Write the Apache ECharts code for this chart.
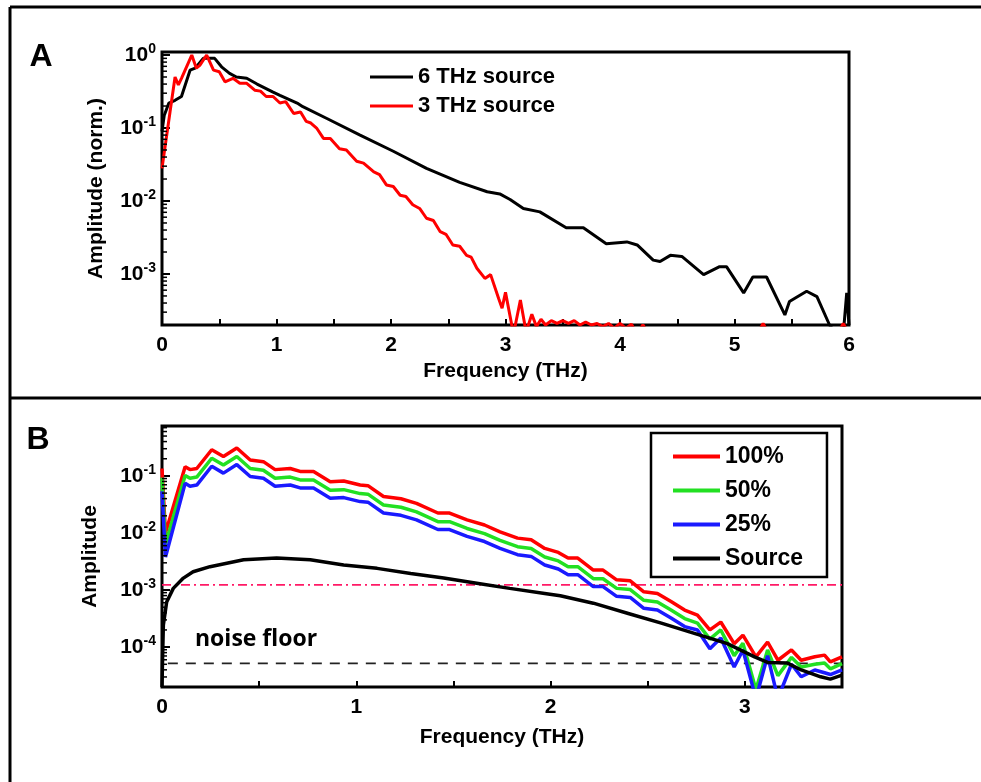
<!DOCTYPE html>
<html><head><meta charset="utf-8">
<script src="https://cdn.jsdelivr.net/npm/echarts/dist/echarts.min.js"></script>
<style>html,body{margin:0;padding:0;background:#fff}#c{width:981px;height:782px}</style>
</head><body><div id="c"></div>
<script>
// ---------- Panel A data ----------
const freqA6 = [0.000,0.020,0.060,0.114,0.170,0.245,0.290,0.360,0.460,0.520,0.590,0.650,0.740,0.830,0.970,1.030,1.180,1.230,1.440,1.730,2.020,2.310,2.600,2.840,2.950,3.040,3.156,3.300,3.530,3.680,3.880,4.060,4.150,4.290,4.350,4.440,4.540,4.730,4.870,4.930,5.080,5.160,5.280,5.440,5.480,5.630,5.720,5.830,5.890,5.950,5.980,6.000];
const ampA6  = [0.09,0.15,0.22,0.24,0.27,0.62,0.66,0.90,0.90,0.69,0.56,0.50,0.48,0.40,0.31,0.28,0.22,0.196,0.135,0.080,0.048,0.028,0.018,0.0134,0.0125,0.0105,0.0079,0.0071,0.0043,0.0043,0.0026,0.00275,0.0025,0.00155,0.00148,0.0018,0.00174,0.00098,0.00126,0.00126,0.00055,0.00091,0.00091,0.000275,0.00042,0.00058,0.00049,0.00020,0.00015,0.00015,0.00055,0.00020];

const freqA3 = [0.000,0.070,0.114,0.143,0.170,0.260,0.300,0.330,0.390,0.450,0.500,0.550,0.620,0.680,0.740,0.810,0.860,0.910,0.970,1.030,1.080,1.150,1.210,1.260,1.300,1.350,1.410,1.470,1.550,1.610,1.700,1.760,1.850,1.900,1.960,2.020,2.080,2.130,2.190,2.250,2.310,2.370,2.430,2.480,2.540,2.600,2.660,2.700,2.750,2.820,2.870,2.940,2.970,3.000,3.070,3.130,3.180,3.230,3.270,3.310,3.350,3.400,3.450,3.500,3.550,3.600,3.650,3.700,3.750,3.800,3.850,3.900,3.950,4.000,4.050,4.100,4.150,4.200,4.250,4.600,5.200,5.250,5.300,5.900,5.950,6.000];
const ampA3  = [0.028,0.166,0.50,0.39,0.48,1.0,0.66,0.72,1.0,0.62,0.59,0.43,0.48,0.41,0.41,0.33,0.32,0.27,0.27,0.22,0.23,0.158,0.166,0.123,0.117,0.100,0.072,0.072,0.052,0.050,0.035,0.033,0.025,0.023,0.0166,0.0158,0.012,0.0115,0.0089,0.0079,0.0058,0.0054,0.0038,0.0035,0.0025,0.0024,0.0018,0.0017,0.0012,0.00087,0.00098,0.00046,0.00034,0.00056,0.00015,0.00044,0.00016,0.00028,0.00019,0.00024,0.00020,0.00023,0.00021,0.00023,0.00021,0.00023,0.00020,0.00022,0.00020,0.00021,0.00019,0.00021,0.00018,0.00021,0.00018,0.000205,0.00015,0.000202,0.00015,0.00015,0.00015,0.00021,0.00015,0.00015,0.00021,0.00015];

// ---------- Panel B data ----------
const freqB = [0.000,0.018,0.119,0.144,0.179,0.256,0.316,0.385,0.454,0.522,0.582,0.660,0.711,0.780,0.866,0.935,1.020,1.060,1.140,1.230,1.310,1.420,1.480,1.570,1.660,1.740,1.830,1.900,1.970,2.040,2.090,2.140,2.220,2.270,2.340,2.410,2.480,2.550,2.620,2.690,2.756,2.820,2.876,2.945,2.990,3.057,3.117,3.170,3.240,3.290,3.360,3.410,3.440,3.500];
const ampB100 = [0.135,0.010,0.145,0.129,0.135,0.288,0.219,0.309,0.190,0.178,0.129,0.135,0.120,0.120,0.0794,0.0813,0.0692,0.0676,0.0437,0.0398,0.0331,0.0224,0.0224,0.0170,0.0138,0.0105,0.00813,0.00759,0.00537,0.00457,0.00363,0.00363,0.00224,0.00224,0.00151,0.00145,0.000933,0.000871,0.000631,0.000447,0.000363,0.000200,0.000275,0.000115,0.000162,0.0000676,0.000123,0.0000589,0.0000891,0.0000589,0.0000676,0.0000724,0.0000550,0.0000676];
const ampB50  = [0.0933,0.00631,0.102,0.0912,0.0955,0.204,0.155,0.219,0.135,0.126,0.0912,0.0955,0.0851,0.0851,0.0562,0.0575,0.0490,0.0479,0.0309,0.0282,0.0234,0.0158,0.0158,0.0120,0.00977,0.00741,0.00575,0.00537,0.00380,0.00324,0.00257,0.00257,0.00158,0.00158,0.00107,0.00102,0.000661,0.000617,0.000447,0.000316,0.000263,0.000138,0.000200,0.0000708,0.000117,0.000018,0.0000891,0.0000316,0.0000661,0.0000447,0.0000501,0.0000525,0.0000417,0.0000513];
const ampB25  = [0.0537,0.00380,0.0741,0.0661,0.0692,0.148,0.112,0.158,0.0977,0.0912,0.0661,0.0692,0.0617,0.0617,0.0407,0.0417,0.0355,0.0347,0.0224,0.0204,0.0170,0.0115,0.0115,0.00871,0.00708,0.00537,0.00417,0.00389,0.00275,0.00234,0.00186,0.00186,0.00115,0.00115,0.000776,0.000741,0.000479,0.000447,0.000324,0.000229,0.000200,0.0000933,0.000145,0.0000447,0.0000891,0.0000126,0.0000708,0.0000126,0.0000501,0.0000302,0.0000398,0.0000355,0.0000331,0.0000398];
const freqBsrc = [0.000,0.003,0.007,0.024,0.058,0.110,0.160,0.247,0.420,0.590,0.763,0.935,1.107,1.280,1.450,1.620,1.790,1.970,2.050,2.220,2.400,2.570,2.740,2.910,3.050,3.120,3.220,3.290,3.390,3.440,3.500];
const ampBsrc  = [0.000020,0.000065,0.000245,0.000617,0.00107,0.00162,0.00209,0.00257,0.00339,0.00363,0.00339,0.00275,0.00240,0.00195,0.00162,0.00132,0.00107,0.000871,0.000794,0.000589,0.000389,0.000263,0.000174,0.000115,0.0000676,0.0000537,0.0000525,0.0000398,0.0000302,0.0000275,0.0000324];
const refLineX    = [0.0, 3.5];
const refLevelB   = [0.00123, 0.00123];     // dash-dot reference line
const noiseLineX  = [0.03, 3.5];
const noiseFloorB = [0.000052, 0.000052];   // noise floor

// minor (log) tick values
const minorTicksA = [3e-4,4e-4,5e-4,6e-4,7e-4,8e-4,9e-4,2e-3,3e-3,4e-3,5e-3,6e-3,7e-3,8e-3,9e-3,2e-2,3e-2,4e-2,5e-2,6e-2,7e-2,8e-2,9e-2,0.2,0.3,0.4,0.5,0.6,0.7,0.8,0.9];
const minorTicksB = [3e-5,4e-5,5e-5,6e-5,7e-5,8e-5,9e-5,2e-4,3e-4,4e-4,5e-4,6e-4,7e-4,8e-4,9e-4,2e-3,3e-3,4e-3,5e-3,6e-3,7e-3,8e-3,9e-3,2e-2,3e-2,4e-2,5e-2,6e-2,7e-2,8e-2,9e-2,0.2,0.3,0.4,0.5,0.6,0.7];

const FONT = '"Liberation Sans", Arial, Helvetica, sans-serif';
const pairs = (xs, ys) => xs.map((x, i) => [x, ys[i]]);

function powLabel(v) {
  const e = Math.log10(v), r = Math.round(e);
  if (Math.abs(e - r) > 1e-6) return '';
  return '{b|10}{s|' + r + '}';
}
function intLabel(v) {
  return Math.abs(v - Math.round(v)) < 1e-9 ? String(Math.round(v)) : '';
}
const RICH = {
  b: {fontSize: 21, fontWeight: 'bold', fontFamily: FONT, color: '#000', lineHeight: 25},
  s: {fontSize: 14, fontWeight: 'bold', fontFamily: FONT, color: '#000', verticalAlign: 'top', lineHeight: 14}
};
const nameStyle = {fontSize: 21, fontWeight: 'bold', fontFamily: FONT, color: '#000'};
const tickStyle = {inside: true, length: 6, lineStyle: {width: 2, color: '#000'}};

function xAxis(idx, max, gap) {
  return {
    type: 'value', gridIndex: idx, min: 0, max: max, interval: 0.5,
    name: 'Frequency (THz)', nameLocation: 'middle', nameGap: gap, nameTextStyle: nameStyle,
    axisLine: {show: false}, axisTick: tickStyle, splitLine: {show: false},
    axisLabel: {interval: 0, margin: 10, fontSize: 21, fontWeight: 'bold', fontFamily: FONT, color: '#000', formatter: intLabel}
  };
}
function yAxis(idx, min, max, name, gap) {
  return {
    type: 'log', logBase: 10, gridIndex: idx, min: min, max: max,
    name: name, nameLocation: 'middle', nameGap: gap, nameRotate: 90, nameTextStyle: nameStyle,
    axisLine: {show: false}, splitLine: {show: false},
    axisTick: {inside: true, length: 8, lineStyle: {width: 2, color: '#000'}},
    axisLabel: {interval: 0, margin: 6, formatter: powLabel, rich: RICH}
  };
}
function minorTickSeries(idx, vals) {
  return {
    type: 'custom', xAxisIndex: idx, yAxisIndex: idx, silent: true, z: 5,
    data: vals.map(v => [0, v]),
    renderItem: function (p, api) {
      const pt = api.coord([api.value(0), api.value(1)]);
      return {type: 'line', shape: {x1: pt[0], y1: pt[1], x2: pt[0] + 5, y2: pt[1]},
              style: {stroke: '#000', lineWidth: 1.5}};
    }
  };
}
function lineSeries(name, idx, data, color, width, extra) {
  return Object.assign({
    name: name, type: 'line', xAxisIndex: idx, yAxisIndex: idx, data: data,
    showSymbol: false, symbol: 'none', clip: true, animation: false,
    itemStyle: {color: color}, lineStyle: {color: color, width: width}
  }, extra || {});
}

const chart = echarts.init(document.getElementById('c'), null, {renderer: 'canvas'});
chart.setOption({
  animation: false,
  backgroundColor: '#fff',
  grid: [
    {left: 162, top: 52, width: 687, height: 273, show: true, borderColor: '#000', borderWidth: 3, backgroundColor: 'transparent'},
    {left: 162, top: 426, width: 680, height: 261, show: true, borderColor: '#000', borderWidth: 3, backgroundColor: 'transparent'}
  ],
  xAxis: [xAxis(0, 6, 36), xAxis(1, 3.5, 40)],
  yAxis: [yAxis(0, 2e-4, 1.1, 'Amplitude (norm.)', 55), yAxis(1, 2e-5, 0.75, 'Amplitude', 61)],
  legend: [
    {data: ['6 THz source', '3 THz source'], left: 370, top: 66, orient: 'vertical', icon: 'rect',
     itemWidth: 43, itemHeight: 3, itemGap: 7, padding: 0,
     textStyle: {fontSize: 22, fontWeight: 'bold', fontFamily: FONT, color: '#000'}},
    {data: ['100%', '50%', '25%', 'Source'], left: 651, top: 433, orient: 'vertical', icon: 'rect',
     itemWidth: 47, itemHeight: 4, itemGap: 11, padding: [12, 24, 7, 22],
     borderColor: '#000', borderWidth: 2.5,
     textStyle: {fontSize: 23, fontWeight: 'bold', fontFamily: FONT, color: '#000'}}
  ],
  graphic: [
    {type: 'line', shape: {x1: 10, y1: 7, x2: 981, y2: 7}, style: {stroke: '#000', lineWidth: 3}},
    {type: 'line', shape: {x1: 10, y1: 7, x2: 10, y2: 782}, style: {stroke: '#000', lineWidth: 3}},
    {type: 'line', shape: {x1: 10, y1: 398, x2: 981, y2: 398}, style: {stroke: '#000', lineWidth: 3}},
    {type: 'text', x: 41, y: 57, style: {text: 'A', align: 'center', verticalAlign: 'middle', fill: '#000', font: 'bold 32px ' + FONT}},
    {type: 'text', x: 38, y: 440, style: {text: 'B', align: 'center', verticalAlign: 'middle', fill: '#000', font: 'bold 32px ' + FONT}},
    {type: 'text', x: 195, y: 639, style: {text: 'noise floor', align: 'left', verticalAlign: 'middle', fill: '#000', font: 'bold 23px "Open Sans", ' + FONT}}
  ],
  series: [
    lineSeries('6 THz source', 0, pairs(freqA6, ampA6), '#000000', 3),
    lineSeries('3 THz source', 0, pairs(freqA3, ampA3), '#ff0000', 3),
    minorTickSeries(0, minorTicksA),
    lineSeries('ref', 1, pairs(refLineX, refLevelB), '#ff1a66', 1.8, {lineStyle: {color: '#ff1a66', width: 1.8, type: [9, 4, 2, 4]}, silent: true}),
    lineSeries('noise', 1, pairs(noiseLineX, noiseFloorB), '#222222', 1.8, {lineStyle: {color: '#222222', width: 1.8, type: [10, 8]}, silent: true}),
    lineSeries('100%', 1, pairs(freqB, ampB100), '#ff0000', 3.5),
    lineSeries('50%', 1, pairs(freqB, ampB50), '#22e022', 3.5),
    lineSeries('25%', 1, pairs(freqB, ampB25), '#1a1aff', 3.5),
    lineSeries('Source', 1, pairs(freqBsrc, ampBsrc), '#000000', 3.5),
    minorTickSeries(1, minorTicksB)
  ]
});
</script></body></html>
